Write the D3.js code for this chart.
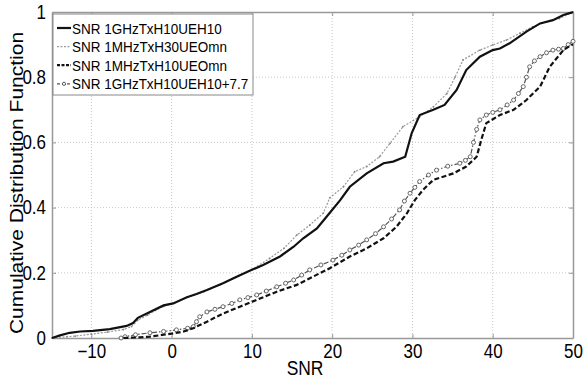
<!DOCTYPE html>
<html>
<head>
<meta charset="utf-8">
<script src="https://cdn.jsdelivr.net/npm/d3@7"></script>
<style>
  html, body { margin: 0; padding: 0; background: #fff; }
  svg { display: block; }
  text { font-family: Arial, "Liberation Sans", sans-serif; fill: #000; }
</style>
</head>
<body>
<svg id="chart" width="584" height="382"></svg>
<script>
// Empirical CDFs of SNR, each point is [SNR (dB), cumulative probability]
const seriesNames = [
  "SNR 1GHzTxH10UEH10",
  "SNR 1MHzTxH30UEOmn",
  "SNR 1MHzTxH10UEOmn",
  "SNR 1GHzTxH10UEH10+7.7"
];

const snrGHzH10 = [
  [-14.9,0],[-13.9,0.008],[-12.7,0.016],[-11.4,0.02],[-9.8,0.022],[-7.7,0.027],[-5.6,0.037],
  [-4.8,0.046],[-4.2,0.062],[-2.7,0.08],[-1.0,0.10],[0.2,0.106],[1.9,0.125],[3.1,0.135],
  [4.4,0.147],[6.4,0.168],[8.1,0.188],[10.0,0.209],[11.4,0.224],[13.5,0.25],[15.2,0.28],
  [16.4,0.306],[18.1,0.336],[19.3,0.372],[21.0,0.423],[22.2,0.464],[24.3,0.505],[26.4,0.536],
  [27.6,0.541],[29.1,0.556],[29.9,0.628],[30.9,0.684],[32.6,0.70],[34.0,0.715],[35.5,0.761],
  [36.7,0.822],[38.4,0.863],[40.0,0.883],[40.9,0.888],[42.1,0.904],[44.2,0.94],[45.9,0.965],
  [47.5,0.975],[48.8,0.991],[49.8,0.998],[50,1]
];

const snrMHzH30 = [
  [-14.9,0],[-13,0.004],[-12,0.006],[-10,0.012],[-8,0.018],[-6,0.026],[-5,0.035],[-4.2,0.055],
  [-3,0.07],[-2,0.085],[-1,0.097],[0,0.105],[2,0.125],[4,0.142],[6,0.163],[8,0.186],[10,0.21],
  [12.2,0.244],[14,0.275],[15.6,0.316],[17.2,0.346],[18.9,0.383],[19.7,0.43],[21.4,0.464],
  [22.8,0.51],[24.3,0.526],[25.9,0.556],[27.2,0.597],[28.8,0.648],[30.9,0.679],[32.6,0.709],
  [34.3,0.75],[35.3,0.8],[36.3,0.853],[38.4,0.883],[40.0,0.899],[41.7,0.914],[43.4,0.935],
  [45.0,0.955],[46.7,0.97],[48.3,0.98],[49.8,0.998],[50,1]
];

const snrMHzH10 = [
  [-6.0,0],[-4,0.002],[-2.7,0.004],[-1,0.01],[0.2,0.014],[1.5,0.02],[2.7,0.03],[3.1,0.035],
  [4.4,0.05],[6.4,0.075],[8.5,0.096],[10.6,0.117],[13.1,0.142],[15.6,0.163],[17.6,0.188],
  [19.7,0.214],[22.2,0.25],[24.3,0.275],[26.4,0.306],[28.0,0.341],[29.3,0.382],[30.3,0.423],
  [31.3,0.454],[32.6,0.485],[35.1,0.505],[36.7,0.526],[38.0,0.556],[38.6,0.61],[39.2,0.659],
  [40.9,0.684],[42.6,0.70],[44.2,0.73],[45.9,0.771],[47.1,0.832],[48.8,0.883],[49.8,0.899],[50,0.9]
];

const snrGHzShifted = [
  [-6.3,0],[-5.8,0.004],[-4.5,0.01],[-2.7,0.016],[-1,0.02],[0.6,0.025],[2.0,0.03],[2.7,0.035],
  [3.1,0.05],[3.5,0.065],[4.4,0.08],[5.4,0.088],[6.4,0.096],[7.5,0.106],[8.5,0.117],[9.5,0.124],
  [10.6,0.132],[11.8,0.144],[13.1,0.157],[14.2,0.168],[15.2,0.178],[16.2,0.193],[17.2,0.209],
  [18.6,0.224],[20.1,0.239],[21.2,0.254],[22.2,0.27],[23.3,0.285],[24.3,0.301],[25.4,0.32],
  [26.4,0.341],[27.4,0.365],[28.4,0.393],[29.0,0.42],[29.7,0.444],[30.3,0.462],[30.9,0.48],
  [32.0,0.5],[33.0,0.515],[34.4,0.527],[35.9,0.536],[36.6,0.545],[37.2,0.556],[37.6,0.6],
  [38.0,0.64],[38.4,0.669],[39.2,0.684],[40.0,0.692],[40.9,0.70],[41.8,0.715],[42.6,0.73],
  [43.2,0.75],[43.8,0.771],[44.2,0.8],[44.6,0.832],[45.2,0.85],[45.9,0.863],[46.7,0.875],
  [47.5,0.883],[48.2,0.886],[48.8,0.888],[49.4,0.9],[50,0.91]
];

const xTicks = [-10, 0, 10, 20, 30, 40, 50];
const yTicks = [0, 0.2, 0.4, 0.6, 0.8, 1];
const xDomain = [-14.9, 50];
const yDomain = [0, 1];

// ---- layout ----
const W = 584, H = 382;
const margin = { top: 12, right: 11, bottom: 44, left: 52 };
const iw = W - margin.left - margin.right;
const ih = H - margin.top - margin.bottom;
const squeeze = 0.87; // narrow glyphs

const svg = d3.select("#chart");
const g = svg.append("g").attr("transform", `translate(${margin.left},${margin.top})`);

const x = d3.scaleLinear().domain(xDomain).range([0, iw]);
const y = d3.scaleLinear().domain(yDomain).range([ih, 0]);

// grid
g.append("g").selectAll("line.gx")
  .data(xTicks.filter(t => t > xDomain[0] && t < xDomain[1]))
  .join("line")
  .attr("x1", d => x(d)).attr("x2", d => x(d))
  .attr("y1", 0).attr("y2", ih)
  .attr("stroke", "#c8c8c8").attr("stroke-width", 1).attr("stroke-dasharray", "1,2");
g.append("g").selectAll("line.gy")
  .data(yTicks.filter(t => t > 0 && t < 1))
  .join("line")
  .attr("x1", 0).attr("x2", iw)
  .attr("y1", d => y(d)).attr("y2", d => y(d))
  .attr("stroke", "#c8c8c8").attr("stroke-width", 1).attr("stroke-dasharray", "1,2");

// axes (ticks point inwards)
const axisColor = "#999";
const xAxis = g.append("g").attr("transform", `translate(0,${ih})`)
  .call(d3.axisBottom(x).tickValues(xTicks).tickSizeInner(-4).tickSizeOuter(0).tickPadding(6));
const yAxis = g.append("g")
  .call(d3.axisLeft(y).tickValues(yTicks).tickSizeInner(-4).tickSizeOuter(0).tickPadding(6)
    .tickFormat(d => d3.format("~g")(d)));
const xTop = g.append("g")
  .call(d3.axisTop(x).tickValues(xTicks).tickSizeInner(-4).tickSizeOuter(0).tickFormat(""));
const yRight = g.append("g").attr("transform", `translate(${iw},0)`)
  .call(d3.axisRight(y).tickValues(yTicks).tickSizeInner(-4).tickSizeOuter(0).tickFormat(""));

[xAxis, yAxis, xTop, yRight].forEach(a => {
  a.selectAll("path.domain").attr("stroke", axisColor).attr("stroke-width", 1.5);
  a.selectAll(".tick line").attr("stroke", axisColor);
});

xAxis.selectAll(".tick text")
  .attr("font-size", 19.5).attr("fill", "#000")
  .attr("dy", "0.71em")
  .attr("transform", `scale(${squeeze},1)`);
yAxis.selectAll(".tick text")
  .attr("font-size", 19.5).attr("fill", "#000")
  .attr("x", -6 / squeeze)
  .attr("transform", `scale(${squeeze},1)`);

// curves
const line = d3.line().x(d => x(d[0])).y(d => y(d[1]));
const plot = g.append("g");

plot.append("path").datum(snrMHzH30)
  .attr("fill", "none").attr("stroke", "#9a9a9a").attr("stroke-width", 1.2)
  .attr("stroke-dasharray", "2,1.5").attr("d", line);
plot.append("g").selectAll("circle")
  .data(snrMHzH30).join("circle")
  .attr("cx", d => x(d[0])).attr("cy", d => y(d[1])).attr("r", 0.9)
  .attr("fill", "#888");

plot.append("path").datum(snrGHzShifted)
  .attr("fill", "none").attr("stroke", "#555").attr("stroke-width", 1.2)
  .attr("stroke-dasharray", "5,2,1.5,2").attr("d", line);
plot.append("g").selectAll("circle")
  .data(snrGHzShifted).join("circle")
  .attr("cx", d => x(d[0])).attr("cy", d => y(d[1])).attr("r", 2)
  .attr("fill", "#fff").attr("stroke", "#666").attr("stroke-width", 1);

plot.append("path").datum(snrMHzH10)
  .attr("fill", "none").attr("stroke", "#111").attr("stroke-width", 2.2)
  .attr("stroke-dasharray", "5,2.5").attr("d", line);

plot.append("path").datum(snrGHzH10)
  .attr("fill", "none").attr("stroke", "#111").attr("stroke-width", 2.2)
  .attr("d", line);

// axis titles
svg.append("text")
  .attr("transform", `translate(305,${H - 7}) scale(${squeeze},1)`)
  .attr("text-anchor", "middle").attr("font-size", 20)
  .text("SNR");
svg.append("text")
  .attr("transform", `translate(23,${margin.top + ih / 2 + 8}) scale(${squeeze},1) rotate(-90)`)
  .attr("text-anchor", "middle").attr("font-size", 21)
  .text("Cumulative Distribution Function");

// legend
const lg = svg.append("g").attr("transform", "translate(53,14)");
lg.append("rect").attr("width", 200).attr("height", 81)
  .attr("fill", "#fff").attr("stroke", "#888").attr("stroke-width", 1);
const legendStyles = [
  { stroke: "#111", width: 2.2, dash: null, marker: null },
  { stroke: "#9a9a9a", width: 1.2, dash: "2,1.5", marker: "dot" },
  { stroke: "#111", width: 2.2, dash: "3,1.5", marker: null },
  { stroke: "#555", width: 1.2, dash: "3,2", marker: "circle" }
];
seriesNames.forEach((name, i) => {
  const cy = 14 + i * 18.6;
  const s = legendStyles[i];
  lg.append("line")
    .attr("x1", 4).attr("x2", 18).attr("y1", cy).attr("y2", cy)
    .attr("stroke", s.stroke).attr("stroke-width", s.width)
    .attr("stroke-dasharray", s.dash);
  if (s.marker === "circle") {
    lg.append("circle").attr("cx", 11).attr("cy", cy).attr("r", 1.6)
      .attr("fill", "#fff").attr("stroke", "#555");
  }
  lg.append("text")
    .attr("transform", `translate(19,${cy + 5.5}) scale(${squeeze},1)`)
    .attr("font-size", 15.5)
    .text(name);
});
</script>
</body>
</html>
